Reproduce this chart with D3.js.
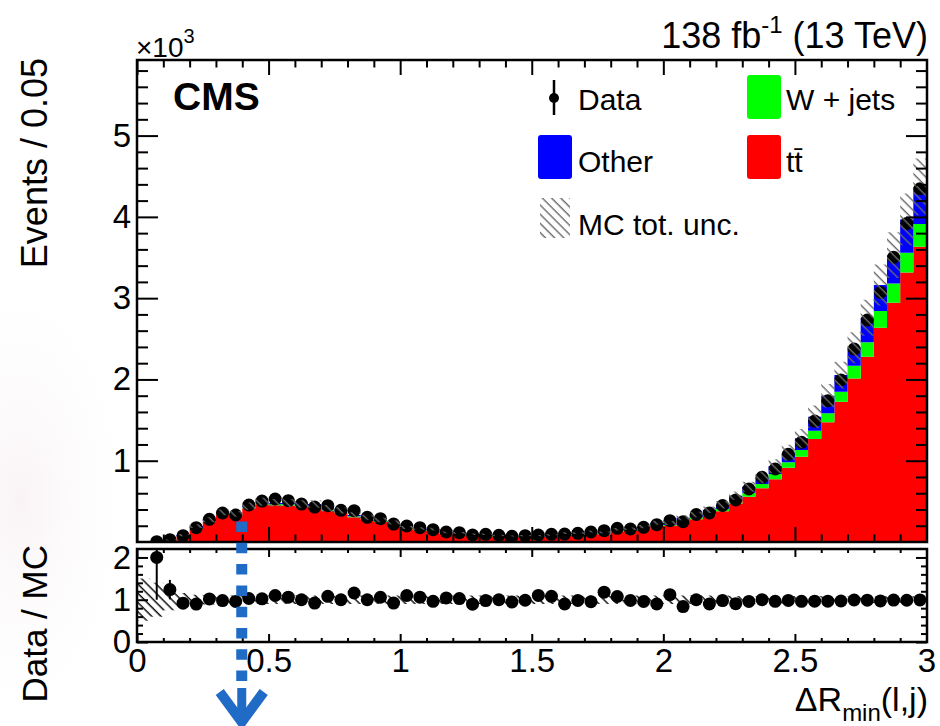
<!DOCTYPE html>
<html>
<head>
<meta charset="utf-8">
<script src="https://cdn.jsdelivr.net/npm/d3@7"></script>
<style>
  body { margin: 0; background: #fff; }
  svg { display: block; font-family: "Liberation Sans", Arial, Helvetica, sans-serif; }
</style>
</head>
<body>
<div id="plot"></div>
<script>
// 60 bins of width 0.05 in dR_min(l,j), from 0 to 3
var binWidth = 0.05;
var binLow = d3.range(60).map(i => +(i * binWidth).toFixed(2));

// observed events per bin (first bin has no data point)
var dataCounts = [null, 4, 29, 78, 176, 279, 357, 332, 455, 504,
  529, 508, 467, 430, 447, 390, 385, 304, 287, 221,
  197, 176, 152, 123, 115, 86, 94, 82, 70, 78,
  86, 94, 98, 107, 123, 139, 168, 160, 181, 213,
  262, 250, 338, 357, 449, 517, 652, 796, 898, 1079,
  1226, 1488, 1738, 1993, 2374, 2731, 3071, 3502, 3920, 4346];

// simulation, stacked bottom to top: ttbar, W + jets, other
var ttbar = [5, 1.6, 18, 68, 165, 250, 340, 323, 415, 464,
  452, 450, 438, 437, 386, 362, 306, 278, 246, 216,
  157, 145, 137, 99, 93, 78, 78, 65, 58, 62,
  61, 69, 89, 89, 107, 96, 130, 136, 158, 200,
  196, 250, 281, 329, 377, 467, 557, 660, 771, 914,
  1049, 1267, 1472, 1726, 2013, 2279, 2636, 2943, 3317, 3632];
var wjets = [0.5, 0.1, 2, 4, 8, 9, 10, 10, 12, 14,
  14, 14, 14, 14, 13, 13, 12, 12, 12, 11,
  10, 10, 10, 9, 9, 8, 8, 8, 7, 8,
  8, 8, 9, 9, 10, 10, 11, 11, 12, 14,
  14, 18, 22, 26, 31, 41, 49, 53, 65, 66,
  82, 102, 111, 123, 155, 180, 205, 238, 241, 279];
var other = [1, 0.3, 3.4, 13, 23, 15, 14, 13, 15, 16,
  15, 15, 15, 16, 15, 15, 14, 14, 13, 13,
  12, 11, 11, 10, 10, 10, 10, 9, 9, 9,
  9, 10, 11, 11, 12, 12, 15, 16, 19, 23,
  24, 30, 35, 42, 50, 62, 74, 82, 98, 118,
  144, 172, 217, 205, 222, 300, 320, 348, 411, 459];

// relative total MC uncertainty per bin
var mcRelUnc = [0.5, 0.4, 0.25, 0.16, 0.12, 0.11, 0.1, 0.1, 0.1, 0.1,
  0.1, 0.1, 0.1, 0.1, 0.1, 0.1, 0.1, 0.1, 0.1, 0.1,
  0.1, 0.1, 0.1, 0.1, 0.1, 0.1, 0.1, 0.1, 0.1, 0.1,
  0.1, 0.1, 0.1, 0.1, 0.1, 0.1, 0.1, 0.1, 0.1, 0.1,
  0.1, 0.1, 0.1, 0.1, 0.1, 0.09, 0.09, 0.09, 0.09, 0.09,
  0.09, 0.09, 0.08, 0.08, 0.08, 0.08, 0.08, 0.08, 0.08, 0.08];

var yMajor = [1000, 2000, 3000, 4000, 5000];
var xMajor = [0, 0.5, 1, 1.5, 2, 2.5, 3];
var ratioMajor = [0, 1, 2];

var svgWidth = 940;
var svgHeight = 726;
var font = '"Liberation Sans", Arial, Helvetica, sans-serif';

var svg = d3.select("#plot")
  .append("svg")
  .attr("width", svgWidth)
  .attr("height", svgHeight);

// frame positions
var left = 137, right = 927;
var mainTop = 60, mainBottom = 542;
var ratioTop = 549, ratioBottom = 642;

var x = d3.scaleLinear().domain([0, 3]).range([left, right - 0.5]);
var yMain = d3.scaleLinear().domain([0, 5930]).range([mainBottom, mainTop]);
var yRatio = d3.scaleLinear().domain([0, 2.2]).range([ratioBottom, ratioTop]);

var defs = svg.append("defs");

function hatch(id, color, width) {
  defs.append("pattern")
    .attr("id", id)
    .attr("patternUnits", "userSpaceOnUse")
    .attr("width", 6.5).attr("height", 6.5)
    .attr("patternTransform", "rotate(-45)")
    .append("line")
    .attr("x1", 3).attr("y1", 0).attr("x2", 3).attr("y2", 6.5)
    .attr("stroke", color).attr("stroke-width", width);
}
hatch("hatchMain", "#6a6a6a", 1.4);
hatch("hatchRatio", "#111", 1.5);

defs.append("clipPath").attr("id", "clipMain")
  .append("rect").attr("x", left).attr("y", mainTop)
  .attr("width", right - left).attr("height", mainBottom - mainTop);
defs.append("clipPath").attr("id", "clipRatio")
  .append("rect").attr("x", left).attr("y", ratioTop)
  .attr("width", right - left).attr("height", ratioBottom - ratioTop);

var grad = defs.append("radialGradient").attr("id", "wash");
grad.append("stop").attr("offset", "0%").attr("stop-color", "#eedde1").attr("stop-opacity", 0.35);
grad.append("stop").attr("offset", "100%").attr("stop-color", "#ffffff").attr("stop-opacity", 0);

// faint background wash on the left
svg.append("ellipse")
  .attr("cx", 20).attr("cy", 500).attr("rx", 120).attr("ry", 240)
  .attr("fill", "url(#wash)");

// ---------- main panel ----------
var rows = binLow.map((lo, i) => ({ lo: lo, hi: lo + binWidth, tt: ttbar[i], wjets: wjets[i], other: other[i] }));
var layers = d3.stack().keys(["tt", "wjets", "other"])(rows);
var colors = { tt: "#ff0000", wjets: "#00ff00", other: "#0000ff" };

function steps(vals) {
  // vals: array of {lo, hi, y0, y1}
  return vals.flatMap(d => [{ x: d.lo, y0: d.y0, y1: d.y1 }, { x: d.hi, y0: d.y0, y1: d.y1 }]);
}

var mainArea = d3.area()
  .x(d => x(d.x))
  .y0(d => yMain(d.y0))
  .y1(d => yMain(d.y1));

var mainG = svg.append("g").attr("clip-path", "url(#clipMain)");

layers.forEach(function(layer) {
  var pts = steps(layer.map(d => ({ lo: d.data.lo, hi: d.data.hi, y0: d[0], y1: d[1] })));
  mainG.append("path")
    .attr("d", mainArea(pts))
    .attr("fill", colors[layer.key]);
});

var mcTotal = rows.map(d => d.tt + d.wjets + d.other);

var dataPts = binLow.map((lo, i) => ({ x: lo + binWidth / 2, n: dataCounts[i], mc: mcTotal[i] }))
  .filter(d => d.n !== null);

mainG.selectAll(".err")
  .data(dataPts)
  .enter()
  .append("line")
  .attr("x1", d => x(d.x)).attr("x2", d => x(d.x))
  .attr("y1", d => yMain(d.n + Math.sqrt(d.n)))
  .attr("y2", d => yMain(d.n - Math.sqrt(d.n)))
  .attr("stroke", "#000").attr("stroke-width", 2);

mainG.selectAll(".dot")
  .data(dataPts)
  .enter()
  .append("circle")
  .attr("cx", d => x(d.x))
  .attr("cy", d => yMain(d.n))
  .attr("r", 6.5)
  .attr("fill", "#000");

var bandPts = steps(rows.map((d, i) => ({ lo: d.lo, hi: d.hi, y0: mcTotal[i] * (1 - mcRelUnc[i]), y1: mcTotal[i] * (1 + mcRelUnc[i]) })));
mainG.append("path")
  .attr("d", mainArea(bandPts))
  .attr("fill", "url(#hatchMain)");

// ---------- ratio panel ----------
var ratioG = svg.append("g").attr("clip-path", "url(#clipRatio)");

var ratioArea = d3.area()
  .x(d => x(d.x))
  .y0(d => yRatio(d.y0))
  .y1(d => yRatio(d.y1));

var ratioBand = steps(rows.map((d, i) => ({ lo: d.lo, hi: d.hi, y0: 1 - mcRelUnc[i], y1: 1 + mcRelUnc[i] })));
ratioG.append("path")
  .attr("d", ratioArea(ratioBand))
  .attr("fill", "url(#hatchRatio)");

ratioG.selectAll(".rerr")
  .data(dataPts)
  .enter()
  .append("line")
  .attr("x1", d => x(d.x)).attr("x2", d => x(d.x))
  .attr("y1", d => yRatio((d.n + Math.sqrt(d.n)) / d.mc))
  .attr("y2", d => yRatio((d.n - Math.sqrt(d.n)) / d.mc))
  .attr("stroke", "#000").attr("stroke-width", 2);

ratioG.selectAll(".rdot")
  .data(dataPts)
  .enter()
  .append("circle")
  .attr("cx", d => x(d.x))
  .attr("cy", d => yRatio(d.n / d.mc))
  .attr("r", 6.5)
  .attr("fill", "#000");

// ---------- axes ----------
var xMinor = d3.range(0, 31).map(i => +(i * 0.1).toFixed(1)).filter(v => xMajor.indexOf(v) < 0);
var yMinor = d3.range(1, 30).map(i => i * 200).filter(v => yMajor.indexOf(v) < 0);
var ratioMinor = [0.2, 0.4, 0.6, 0.8, 1.2, 1.4, 1.6, 1.8];

function ticks(axis, tr) {
  var g = svg.append("g").attr("transform", tr).call(axis);
  g.select(".domain").remove();
  g.selectAll("line").attr("stroke", "#000").attr("stroke-width", 2);
  g.attr("font-family", font).attr("font-size", 33);
  g.selectAll("text").attr("fill", "#000");
  return g;
}

// main panel ticks
ticks(d3.axisLeft(yMain).tickValues(yMajor).tickSize(-21).tickPadding(6).tickFormat(d => d / 1000), `translate(${left},0)`);
ticks(d3.axisLeft(yMain).tickValues(yMinor).tickSize(-11).tickFormat(""), `translate(${left},0)`);
ticks(d3.axisRight(yMain).tickValues(yMajor).tickSize(-21).tickFormat(""), `translate(${right},0)`);
ticks(d3.axisRight(yMain).tickValues(yMinor).tickSize(-11).tickFormat(""), `translate(${right},0)`);
ticks(d3.axisTop(x).tickValues(xMajor).tickSize(15).tickFormat(""), `translate(0,${mainBottom})`);
ticks(d3.axisTop(x).tickValues(xMinor).tickSize(7.5).tickFormat(""), `translate(0,${mainBottom})`);
ticks(d3.axisBottom(x).tickValues(xMajor).tickSize(15).tickFormat(""), `translate(0,${mainTop})`);
ticks(d3.axisBottom(x).tickValues(xMinor).tickSize(7.5).tickFormat(""), `translate(0,${mainTop})`);

// ratio panel ticks
ticks(d3.axisLeft(yRatio).tickValues(ratioMajor).tickSize(-11).tickPadding(6).tickFormat(d => d), `translate(${left},0)`);
ticks(d3.axisLeft(yRatio).tickValues(ratioMinor).tickSize(-6).tickFormat(""), `translate(${left},0)`);
ticks(d3.axisRight(yRatio).tickValues(ratioMajor).tickSize(-11).tickFormat(""), `translate(${right},0)`);
ticks(d3.axisRight(yRatio).tickValues(ratioMinor).tickSize(-6).tickFormat(""), `translate(${right},0)`);
ticks(d3.axisBottom(x).tickValues(xMajor).tickSize(-8).tickPadding(7).tickFormat(d => String(d)), `translate(0,${ratioBottom})`);
ticks(d3.axisBottom(x).tickValues(xMinor).tickSize(-4).tickFormat(""), `translate(0,${ratioBottom})`);
ticks(d3.axisBottom(x).tickValues(xMajor).tickSize(8).tickFormat(""), `translate(0,${ratioTop})`);
ticks(d3.axisBottom(x).tickValues(xMinor).tickSize(4).tickFormat(""), `translate(0,${ratioTop})`);

// frames
svg.append("rect")
  .attr("x", left).attr("y", mainTop)
  .attr("width", right - left).attr("height", mainBottom - mainTop)
  .attr("fill", "none").attr("stroke", "#000").attr("stroke-width", 2.5);
svg.append("rect")
  .attr("x", left).attr("y", ratioTop)
  .attr("width", right - left).attr("height", ratioBottom - ratioTop)
  .attr("fill", "none").attr("stroke", "#000").attr("stroke-width", 2.5);

// ---------- text ----------
svg.append("text")
  .attr("x", 136).attr("y", 57)
  .attr("font-family", font).attr("font-size", 28)
  .text("×10")
  .append("tspan").attr("dy", -14).attr("font-size", 20).text("3");

var lumi = svg.append("text")
  .attr("x", 928).attr("y", 48)
  .attr("text-anchor", "end")
  .attr("font-family", font).attr("font-size", 36);
lumi.append("tspan").text("138 fb");
lumi.append("tspan").attr("dy", -15).attr("font-size", 24).text("-1");
lumi.append("tspan").attr("dy", 15).text(" (13 TeV)");

svg.append("text")
  .attr("x", 173).attr("y", 110)
  .attr("font-family", font).attr("font-size", 39).attr("font-weight", "bold")
  .text("CMS");

svg.append("text")
  .attr("transform", "translate(47,58) rotate(-90)")
  .attr("text-anchor", "end")
  .attr("font-family", font).attr("font-size", 36)
  .text("Events / 0.05");

svg.append("text")
  .attr("transform", "translate(47,545) rotate(-90)")
  .attr("text-anchor", "end")
  .attr("font-family", font).attr("font-size", 35)
  .text("Data / MC");

var xTitle = svg.append("text")
  .attr("x", 928).attr("y", 711)
  .attr("text-anchor", "end")
  .attr("font-family", font).attr("font-size", 34);
xTitle.append("tspan").text("ΔR");
xTitle.append("tspan").attr("dy", 10).attr("font-size", 24).text("min");
xTitle.append("tspan").attr("dy", -10).text("(l,j)");

// ---------- legend ----------
var legend = svg.append("g").attr("font-family", font).attr("font-size", 30);

legend.append("line")
  .attr("x1", 554).attr("x2", 554).attr("y1", 80).attr("y2", 115)
  .attr("stroke", "#000").attr("stroke-width", 2.5);
legend.append("circle").attr("cx", 554).attr("cy", 98).attr("r", 5).attr("fill", "#000");
legend.append("text").attr("x", 578).attr("y", 110).text("Data");

legend.append("rect").attr("x", 747).attr("y", 75).attr("width", 34).attr("height", 44).attr("rx", 3).attr("fill", colors.wjets);
legend.append("text").attr("x", 786).attr("y", 110).text("W + jets");

legend.append("rect").attr("x", 538).attr("y", 135).attr("width", 34).attr("height", 44).attr("rx", 3).attr("fill", colors.other);
legend.append("text").attr("x", 578).attr("y", 172).text("Other");

legend.append("rect").attr("x", 747).attr("y", 135).attr("width", 34).attr("height", 44).attr("rx", 3).attr("fill", colors.tt);
legend.append("text").attr("x", 786).attr("y", 172).text("tt\u0304");

legend.append("rect").attr("x", 540).attr("y", 198).attr("width", 30).attr("height", 40).attr("fill", "url(#hatchMain)");
legend.append("text").attr("x", 578).attr("y", 235).text("MC tot. unc.");

// ---------- blue annotation arrow ----------
var arrowX = x(0.398);
svg.append("line")
  .attr("x1", arrowX).attr("x2", arrowX).attr("y1", 521.5).attr("y2", 682)
  .attr("stroke", "#1f6bc6").attr("stroke-width", 11)
  .attr("stroke-dasharray", "10.5 10.8");
svg.append("line")
  .attr("x1", arrowX).attr("x2", arrowX).attr("y1", 688).attr("y2", 724)
  .attr("stroke", "#1f6bc6").attr("stroke-width", 9);
svg.append("path")
  .attr("d", `M${arrowX - 22},692 L${arrowX},722 L${arrowX + 22},692`)
  .attr("fill", "none")
  .attr("stroke", "#1f6bc6").attr("stroke-width", 10);
</script>
</body>
</html>
